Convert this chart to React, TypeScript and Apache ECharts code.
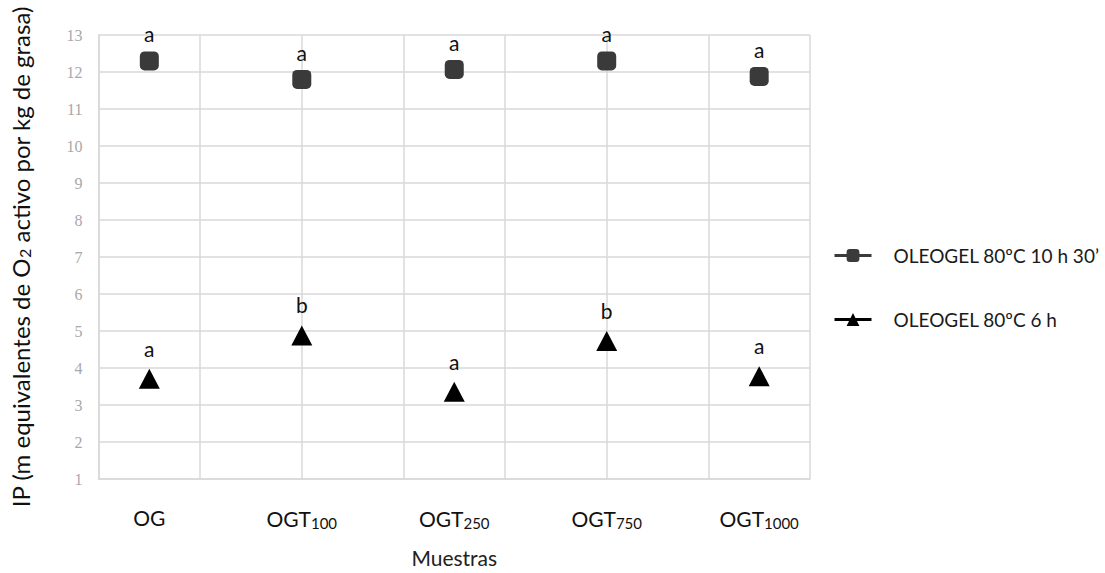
import React, { useEffect, useRef } from "react";
import * as echarts from "echarts";

const categories = ["OG", "OGT100", "OGT250", "OGT750", "OGT1000"];
const xPositions = [0.5, 2, 3.5, 5, 6.5];
const seriesNames = ["OLEOGEL 80ºC 10 h 30’", "OLEOGEL 80ºC 6 h"];
const values10h30 = [12.3, 11.8, 12.07, 12.3, 11.88];
const values6h = [3.71, 4.88, 3.36, 4.73, 3.78];
const letters10h30 = ["a", "a", "a", "a", "a"];
const letters6h = ["a", "b", "a", "b", "a"];
const yMin = 1;
const yMax = 13;
const xMin = 0;
const xMax = 7;

const FONT = "Lato, 'Open Sans', sans-serif";

function catLabel(c: string): string {
  if (c.startsWith("OGT")) return "OGT{sub|" + c.slice(3) + "}";
  return c;
}

export default function App() {
  const ref = useRef<HTMLDivElement>(null);
  useEffect(() => {
    if (!ref.current) return;
    const chart = echarts.init(ref.current, null, { renderer: "svg" });
    const gridColor = "#d9d9d9";
    chart.setOption({
      animation: false,
      backgroundColor: "#ffffff",
      grid: { left: 88, right: 295, top: 35, bottom: 90, containLabel: false },
      legend: {
        orient: "vertical",
        left: 828,
        top: 241,
        itemGap: 45,
        itemWidth: 37,
        itemHeight: 16,
        textStyle: {
          fontFamily: FONT,
          fontSize: 19,
          color: "#1a1a1a",
          padding: [0, 0, 0, 17],
        },
        data: [
          { name: seriesNames[0], itemStyle: { color: "#3a3a3a" }, lineStyle: { color: "#3a3a3a", width: 3, opacity: 1 } },
          { name: seriesNames[1], itemStyle: { color: "#000000" }, lineStyle: { color: "#000000", width: 3, opacity: 1 } },
        ],
      },
      xAxis: [
        {
          type: "value",
          min: xMin,
          max: xMax,
          interval: 1,
          axisLine: { show: true, lineStyle: { color: gridColor, width: 1.5 } },
          axisTick: { show: false },
          axisLabel: { show: false },
          splitLine: { show: true, lineStyle: { color: gridColor, width: 1.5 } },
        },
        {
          type: "value",
          position: "bottom",
          min: xMin,
          max: xMax,
          interval: 0.5,
          axisLine: { show: false },
          axisTick: { show: false },
          splitLine: { show: false },
          axisLabel: {
            show: true,
            margin: 28,
            showMinLabel: true,
            showMaxLabel: true,
            hideOverlap: false,
            fontFamily: FONT,
            fontSize: 21,
            color: "#111",
            formatter: (v: number) => {
              const i = xPositions.findIndex((p) => Math.abs(p - v) < 1e-6);
              return i < 0 ? "" : catLabel(categories[i]);
            },
            rich: {
              sub: { fontFamily: FONT, fontSize: 15, color: "#111", verticalAlign: "bottom", padding: [8, 0, 0, 0] },
            },
          },
          name: "Muestras",
          nameLocation: "middle",
          nameGap: 68,
          nameTextStyle: { fontFamily: FONT, fontSize: 21, color: "#222" },
        },
      ],
      yAxis: {
        type: "value",
        min: yMin,
        max: yMax,
        interval: 1,
        axisLine: { show: true, lineStyle: { color: gridColor, width: 1.5 } },
        axisTick: { show: false },
        axisLabel: {
          margin: 16,
          fontFamily: "'Liberation Serif', 'DejaVu Serif', serif",
          fontSize: 16,
          color: "#a8a8a8",
        },
        splitLine: { show: true, lineStyle: { color: gridColor, width: 1.5 } },
        name: "IP (m equivalentes de O{sub|2} activo por kg de grasa)",
        nameLocation: "middle",
        nameRotate: 90,
        nameGap: 66,
        nameTextStyle: {
          fontFamily: FONT,
          fontSize: 24,
          color: "#111",
          rich: {
            sub: { fontFamily: FONT, fontSize: 16, color: "#111", verticalAlign: "bottom", padding: [9, 0, 0, 0] },
          },
        },
      },
      series: [
        {
          name: seriesNames[0],
          type: "line",
          xAxisIndex: 0,
          data: xPositions.map((x, i) => [x, values10h30[i]]),
          symbol: "roundRect",
          symbolSize: 19,
          showSymbol: true,
          itemStyle: { color: "#3a3a3a" },
          lineStyle: { opacity: 0, width: 0 },
          label: {
            show: true,
            position: "top",
            distance: 7,
            fontFamily: FONT,
            fontSize: 21,
            color: "#111",
            formatter: (p: any) => letters10h30[p.dataIndex],
          },
          z: 3,
        },
        {
          name: seriesNames[1],
          type: "line",
          xAxisIndex: 0,
          data: xPositions.map((x, i) => [x, values6h[i]]),
          symbol: "triangle",
          symbolSize: [21, 20],
          showSymbol: true,
          itemStyle: { color: "#000000" },
          lineStyle: { opacity: 0, width: 0 },
          label: {
            show: true,
            position: "top",
            distance: 10,
            fontFamily: FONT,
            fontSize: 21,
            color: "#111",
            formatter: (p: any) => letters6h[p.dataIndex],
          },
          z: 3,
        },
      ],
    });
    return () => chart.dispose();
  }, []);
  return (
    <div
      ref={ref}
      style={{ position: "fixed", left: 0, top: 0, width: 1105, height: 573 }}
    />
  );
}
